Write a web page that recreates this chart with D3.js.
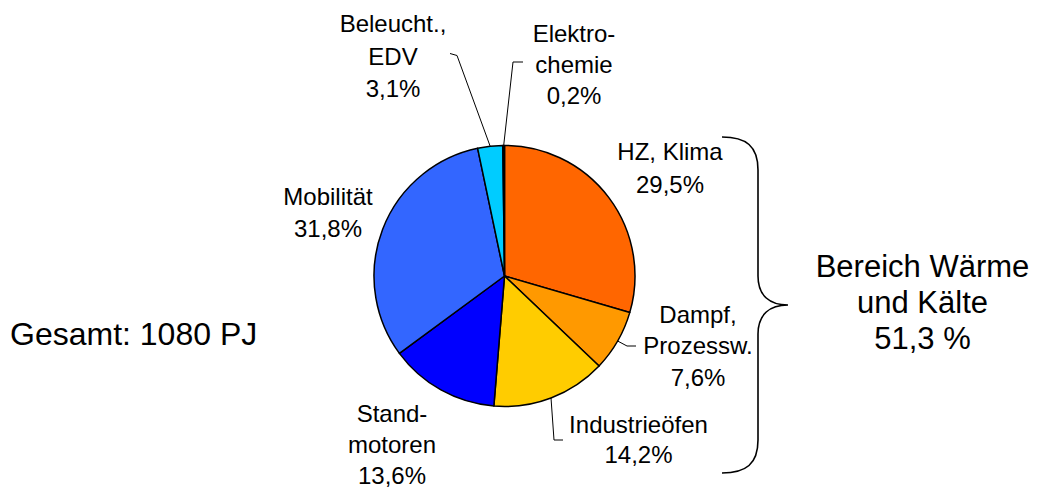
<!DOCTYPE html>
<html>
<head>
<meta charset="utf-8">
<script src="https://cdn.jsdelivr.net/npm/d3@7"></script>
<style>
  html, body { margin: 0; padding: 0; background: #fff; }
  svg { display: block; font-family: Arial, "Liberation Sans", sans-serif; }
</style>
</head>
<body>
<svg id="chart" width="1039" height="488"></svg>
<script>
// ---- data ----
const categories = [
  ["HZ, Klima"],
  ["Dampf,", "Prozessw."],
  ["Industrieöfen"],
  ["Stand-", "motoren"],
  ["Mobilität"],
  ["Beleucht.,", "EDV"],
  ["Elektro-", "chemie"]
];
const values = [29.5, 7.6, 14.2, 13.6, 31.8, 3.1, 0.2];
const colors = ["#FF6600", "#FF9900", "#FFCC00", "#0000FF", "#3366FF", "#00CCFF", "#000000"];
const totalText = "Gesamt: 1080 PJ";
const groupText = ["Bereich Wärme", "und Kälte", "51,3 %"];

// ---- layout (positions of labels / leader elbows) ----
const labelLayout = [
  {x: 670,   y: 160,   lh: 32.5, leader: null},
  {x: 698,   y: 322.7, lh: 31.5, leader: [[627, 346], [636, 346]]},
  {x: 638.5, y: 433.3, lh: 30,   leader: [[554, 440], [563, 440]]},
  {x: 392,   y: 421.7, lh: 31,   leader: null},
  {x: 328,   y: 205,   lh: 31.7, leader: null},
  {x: 393,   y: 32,    lh: 32.5, leader: [[457, 55.5], [450, 53.5]]},
  {x: 574,   y: 41.7,  lh: 31,   leader: [[513, 62], [523, 62]]}
];

const svg = d3.select("#chart");
const cx = 504.5, cy = 276, R = 130.5;
const fmt = v => d3.format(".1f")(v).replace(".", ",") + "%";

const pie = d3.pie().sort(null).value(d => d)(values);
const arc = d3.arc().innerRadius(0).outerRadius(R);

const g = svg.append("g").attr("transform", `translate(${cx},${cy})`);
g.selectAll("path.slice")
  .data(pie)
  .join("path")
  .attr("class", "slice")
  .attr("d", arc)
  .attr("fill", (d, i) => colors[i])
  .attr("stroke", "#000")
  .attr("stroke-width", 1.5)
  .attr("stroke-linejoin", "round");

// leader lines
pie.forEach((d, i) => {
  const L = labelLayout[i];
  if (!L.leader) return;
  const a = (d.startAngle + d.endAngle) / 2;
  const start = [cx + R * Math.sin(a), cy - R * Math.cos(a)];
  const pts = [start].concat(L.leader);
  svg.append("path")
    .attr("d", d3.line()(pts))
    .attr("fill", "none")
    .attr("stroke", "#000")
    .attr("stroke-width", 1);
});

// slice labels
pie.forEach((d, i) => {
  const L = labelLayout[i];
  const lines = categories[i].concat([fmt(values[i])]);
  const t = svg.append("text")
    .attr("text-anchor", "middle")
    .attr("font-size", 24)
    .attr("fill", "#000");
  lines.forEach((s, k) => {
    t.append("tspan").attr("x", L.x).attr("y", L.y + k * L.lh).text(s);
  });
});

// total
svg.append("text")
  .attr("x", 10).attr("y", 345)
  .attr("font-size", 32)
  .attr("fill", "#000")
  .text(totalText);

// brace
svg.append("path")
  .attr("d", "M722,137 C746,137 758,146 758,170 L758,276 C758,296 770,305 788,305 C770,305 758,314 758,334 L758,440 C758,464 746,473 722,473")
  .attr("fill", "none")
  .attr("stroke", "#000")
  .attr("stroke-width", 1.6);

// group text
const gt = svg.append("text")
  .attr("text-anchor", "middle")
  .attr("font-size", 31)
  .attr("fill", "#000");
groupText.forEach((s, k) => {
  gt.append("tspan").attr("x", 922.5).attr("y", 276.7 + k * 36.3).text(s);
});
</script>
</body>
</html>
